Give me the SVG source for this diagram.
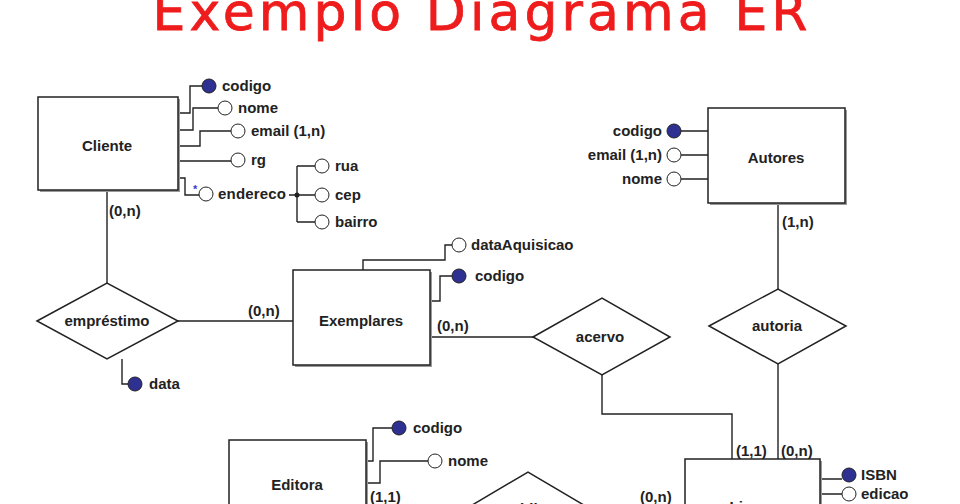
<svg xmlns="http://www.w3.org/2000/svg" width="960" height="504" viewBox="0 0 960 504">
<defs>
<style>
text{font-family:"Liberation Sans",Arial,sans-serif;font-weight:bold;font-size:15px;fill:#222}
.t{font-family:"DejaVu Sans","Liberation Sans",sans-serif;font-weight:normal;font-size:52px;fill:#ee1c1c;stroke:#ee1c1c;stroke-width:0.8}
.b{fill:#fff;stroke:#222;stroke-width:1.5}
.sh{fill:#999}
.l{fill:none;stroke:#222;stroke-width:1.4}
.k{fill:#2f3192;stroke:#222;stroke-width:1}
.o{fill:#fff;stroke:#222;stroke-width:1}
.m{text-anchor:middle}
.e{text-anchor:end}
</style>
</defs>
<rect width="960" height="504" fill="#fff"/>
<text class="t m" x="480" y="30" textLength="655">Exemplo Diagrama ER</text>
<g id="connectors">
<path class="l" d="M107,190V283M178,321H293M122,359V384H128M430,337H533M602,375V414H732V460M778,203V289M778,364V460"/>
<path class="l" d="M178,113H190V86H202M178,130H193V108H218M178,146H200V131H231M178,161H231M178,178H185V195H199M289,195H315M297,166V222M297,166H315M297,222H315"/>
<path class="l" d="M363,270V260H445V245H452M430,301H440V276H452M681,131H708M681,155H708M681,179H708M820,479H842M820,494H842"/>
<path class="l" d="M366,461H373V428H392M366,483H380V461H428"/>
<circle cx="297" cy="195" r="2.5" fill="#222"/>
<text x="193" y="193" style="font-size:11px;fill:#3a3acc">*</text>
</g>
<g id="cardinalities">
<text x="109" y="216">(0,n)</text>
<text x="248" y="316">(0,n)</text>
<text x="437" y="331">(0,n)</text>
<text x="782" y="227">(1,n)</text>
<text x="736" y="456">(1,1)</text>
<text x="781" y="456">(0,n)</text>
<text x="370" y="502">(1,1)</text>
<text x="640" y="502">(0,n)</text>
</g>
<g id="cliente">
<rect class="sh" x="40" y="99" width="140" height="93"/>
<rect class="b" x="38" y="97" width="140" height="93"/>
<text class="m" x="107" y="151">Cliente</text>
<circle class="k" cx="209" cy="86" r="7"/><text x="222" y="91">codigo</text>
<circle class="o" cx="225" cy="108" r="7"/><text x="238" y="113">nome</text>
<circle class="o" cx="238" cy="131" r="7"/><text x="251" y="136">email (1,n)</text>
<circle class="o" cx="238" cy="160" r="7"/><text x="251" y="165">rg</text>
<circle class="o" cx="206" cy="194" r="7"/><text x="218" y="199" textLength="68">endereco</text>
<circle class="o" cx="322" cy="166" r="7"/><text x="335" y="171">rua</text>
<circle class="o" cx="322" cy="195" r="7"/><text x="335" y="200">cep</text>
<circle class="o" cx="322" cy="222" r="7"/><text x="335" y="227">bairro</text>
</g>
<g id="emprestimo">
<polygon class="b" points="37,321 107,283 178,321 107,359"/>
<text class="m" x="107" y="326">empréstimo</text>
<circle class="k" cx="135" cy="384" r="7"/><text x="149" y="389">data</text>
</g>
<g id="exemplares">
<rect class="sh" x="295" y="272" width="137" height="95"/>
<rect class="b" x="293" y="270" width="137" height="95"/>
<text class="m" x="361" y="326">Exemplares</text>
<circle class="o" cx="459" cy="245" r="7"/><text x="471" y="250">dataAquisicao</text>
<circle class="k" cx="459" cy="276" r="7"/><text x="475" y="281">codigo</text>
</g>
<g id="acervo">
<polygon class="b" points="533,337 602,298 670,337 602,375"/>
<text class="m" x="600" y="342">acervo</text>
</g>
<g id="autores">
<rect class="sh" x="710" y="110" width="137" height="95"/>
<rect class="b" x="708" y="108" width="137" height="95"/>
<text class="m" x="776" y="163">Autores</text>
<circle class="k" cx="674" cy="131" r="7"/><text class="e" x="662" y="136">codigo</text>
<circle class="o" cx="674" cy="155" r="7"/><text class="e" x="662" y="160">email (1,n)</text>
<circle class="o" cx="674" cy="179" r="7"/><text class="e" x="662" y="184">nome</text>
</g>
<g id="autoria">
<polygon class="b" points="709,326 778,289 846,326 778,364"/>
<text class="m" x="777" y="331">autoria</text>
</g>
<g id="editora">
<rect class="sh" x="231" y="442" width="137" height="80"/>
<rect class="b" x="229" y="440" width="137" height="80"/>
<text class="m" x="297" y="490">Editora</text>
<circle class="k" cx="399" cy="428" r="7"/><text x="413" y="433">codigo</text>
<circle class="o" cx="435" cy="461" r="7"/><text x="448" y="466">nome</text>
</g>
<g id="publica">
<polygon class="b" points="430,530 528,472 626,530 528,588"/>
<text class="m" x="528" y="514">publica</text>
</g>
<g id="livros">
<rect class="sh" x="687" y="461" width="135" height="80"/>
<rect class="b" x="685" y="459" width="135" height="80"/>
<text class="m" x="752" y="512">Livros</text>
<circle class="k" cx="849" cy="475" r="7"/><text x="861" y="480">ISBN</text>
<circle class="o" cx="849" cy="494" r="7"/><text x="861" y="499">edicao</text>
</g>
</svg>
